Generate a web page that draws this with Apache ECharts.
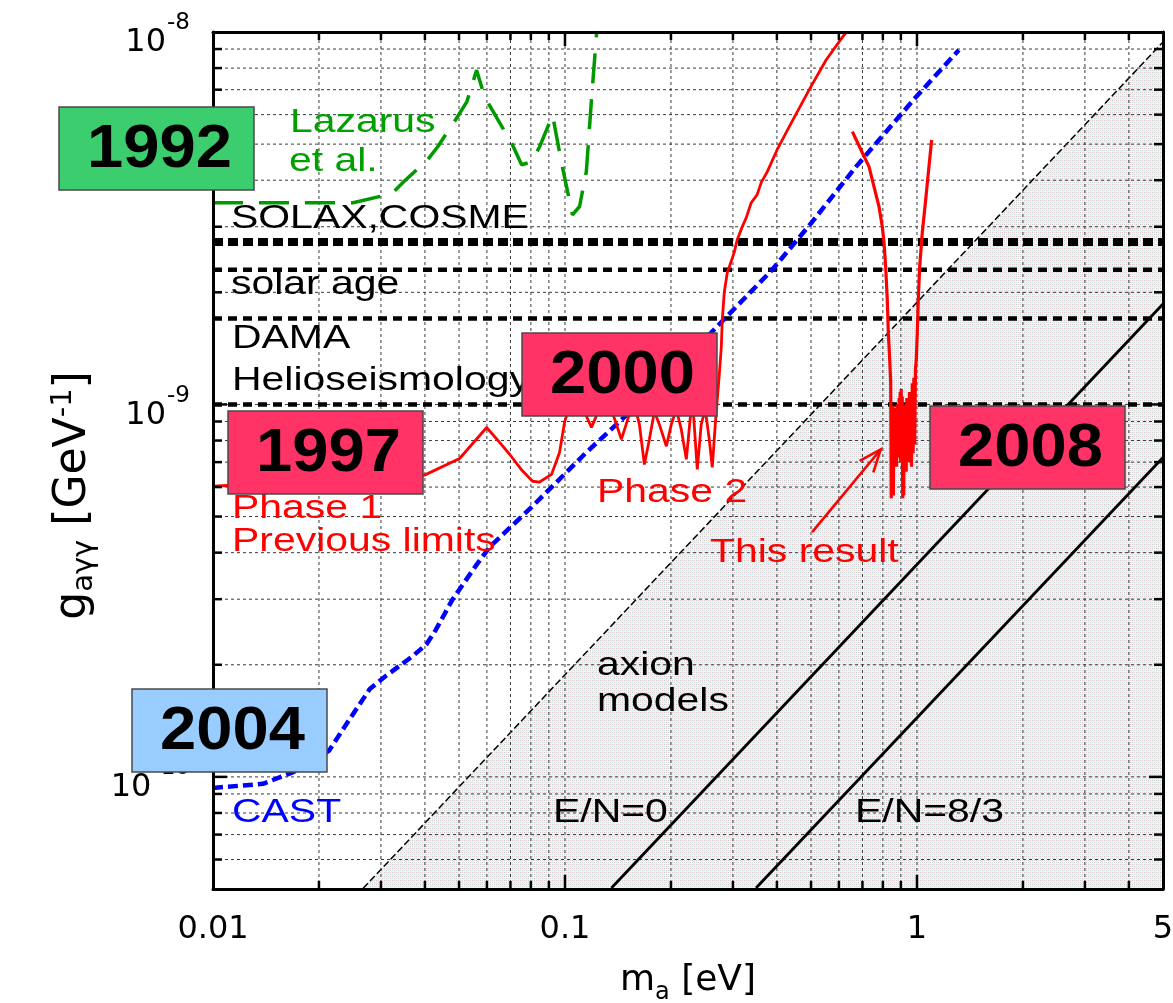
<!DOCTYPE html>
<html><head><meta charset="utf-8">
<script src="https://cdn.jsdelivr.net/npm/echarts@6/dist/echarts.min.js"></script>
<style>html,body{margin:0;padding:0;background:#fff}#c{width:1173px;height:1003px}</style>
</head><body><div id="c"></div><script>
// ---------- axis ranges & ticks ----------
const X_MIN = 0.01, X_MAX = 5, Y_MIN = 5e-11, Y_MAX = 1e-8;
const xTickValues = [0.01, 0.1, 1, 5];
const xTickLabels = ['0.01', '0.1', '1', '5'];
const yTickExponents = [-8, -9, -10];
const xMajorTicks = [0.1, 1];
const xMinorTicks = [0.02,0.03,0.04,0.05,0.06,0.07,0.08,0.09,0.2,0.3,0.4,0.5,0.6,0.7,0.8,0.9,2,3,4];
const yMajorTicks = [1e-10, 1e-9];
const yMinorTicks = [6e-11,7e-11,8e-11,9e-11,2e-10,3e-10,4e-10,5e-10,6e-10,7e-10,8e-10,9e-10,2e-9,3e-9,4e-9,5e-9,6e-9,7e-9,8e-9,9e-9];
const xGridLines = [0.02,0.03,0.04,0.05,0.06,0.07,0.08,0.09,0.1,0.2,0.3,0.4,0.5,0.6,0.7,0.8,0.9,1,2,3,4];
const yGridLines = [6e-11,7e-11,8e-11,9e-11,1e-10,2e-10,3e-10,4e-10,5e-10,6e-10,7e-10,8e-10,9e-10,1e-9,2e-9,3e-9,4e-9,5e-9,6e-9,7e-9,8e-9,9e-9];

// ---------- horizontal limits ----------
const limitNames  = ['SOLAX,COSME', 'solar age', 'DAMA', 'Helioseismology'];
const limitValues = [2.73e-9, 2.3e-9, 1.7e-9, 1.0e-9];

// ---------- axion model band & lines ----------
const bandX = [0.0267, 5];
const bandY = [5.02e-11, 9.4e-9];
const en0X = [0.1355, 5];
const en0Y = [5.03e-11, 1.86e-9];
const en83X = [0.349, 5];
const en83Y = [5.03e-11, 7.2e-10];

// ---------- Lazarus et al. (1992) ----------
const lazX = [0.01,0.025,0.0322,0.0346,0.0407,0.0435,0.0495,0.0526,0.0561,0.0591,0.0665,0.0705,0.0753,0.0804,0.0847,0.0922,0.0978,0.105,0.110,0.115,0.1189,0.123,0.1238];
const lazY = [3.48e-9,3.48e-9,3.68e-9,3.94e-9,4.54e-9,4.92e-9,5.92e-9,6.49e-9,7.9e-9,6.7e-9,5.53e-9,5.04e-9,4.40e-9,4.48e-9,4.92e-9,5.98e-9,4.45e-9,3.23e-9,3.40e-9,4.22e-9,6.57e-9,9.94e-9,1.0e-8];

// ---------- Tokyo helioscope phase 1 + phase 2 (1997, 2000) ----------
const tokyoX = [0.01,0.0399,0.0502,0.0599,0.0652,0.0696,0.0751,0.0809,0.0847,0.0916,0.0965,0.0997,0.1030,0.1078,0.1128,0.1189,0.1237,0.1286,0.1355,0.1446,0.1514,0.1575,0.1627,0.1681,0.1737,0.1795,0.1854,0.1941,0.2005,0.2072,0.2140,0.2212,0.2270,0.2315,0.2376,0.2438,0.2503,0.2570,0.2621,0.2673,0.2708,0.2744,0.2780,0.2798,0.2835,0.2891,0.2929,0.3026,0.3086,0.3188,0.3272,0.3381,0.3516,0.3609,0.3754,0.4006,0.4334,0.4938,0.5518,0.6208,0.633];
const tokyoY = [6.03e-10,6.46e-10,7.16e-10,8.67e-10,7.91e-10,7.35e-10,6.69e-10,6.22e-10,6.19e-10,6.49e-10,7.43e-10,8.95e-10,9.89e-10,1.044e-9,9.69e-10,8.68e-10,9.46e-10,1.031e-9,9.69e-10,8.06e-10,9.23e-10,1.0e-9,8.84e-10,6.90e-10,8.06e-10,9.58e-10,8.84e-10,7.72e-10,8.84e-10,9.69e-10,8.57e-10,7.12e-10,9.23e-10,9.58e-10,6.69e-10,8.84e-10,9.69e-10,8.06e-10,6.78e-10,8.84e-10,1.031e-9,1.203e-9,1.42e-9,1.69e-9,2.00e-9,2.26e-9,2.34e-9,2.56e-9,2.77e-9,3.00e-9,3.17e-9,3.48e-9,3.66e-9,3.94e-9,4.21e-9,4.83e-9,5.56e-9,6.99e-9,8.41e-9,9.82e-9,1.0e-8];

// ---------- This result (2008) ----------
const resultX = [0.6553,0.6995,0.7307,0.7551,0.78,0.7971,0.806,0.8149,0.8235,0.829,0.8366,0.8421,
  0.845,0.848,0.851,0.854,0.857,0.860,0.863,0.866,0.869,0.872,0.875,0.878,0.881,0.884,0.887,0.890,0.893,0.896,0.899,0.902,0.905,0.908,0.911,0.914,0.917,0.920,0.924,0.928,0.932,0.936,0.940,0.944,0.948,0.952,0.956,0.960,0.965,0.970,0.975,0.980,0.985,0.990,
  0.9954,1.0021,1.0086,1.0178,1.0352,1.0585,1.0815,1.1008];
const resultY = [5.40e-9,4.74e-9,4.35e-9,3.84e-9,3.40e-9,3.00e-9,2.72e-9,2.34e-9,1.91e-9,1.56e-9,1.32e-9,1.15e-9,
  5.6e-10,9.6e-10,6.2e-10,9.9e-10,5.7e-10,9.3e-10,7.0e-10,9.8e-10,7.6e-10,9.4e-10,6.8e-10,1.0e-9,7.8e-10,9.6e-10,7.2e-10,1.04e-9,7.5e-10,1.08e-9,7.0e-10,1.1e-9,7.6e-10,1.05e-9,5.6e-10,9.2e-10,5.7e-10,9.8e-10,7.4e-10,1.0e-9,6.6e-10,1.04e-9,7.2e-10,1.0e-9,7.0e-10,1.08e-9,7.6e-10,1.06e-9,6.8e-10,1.14e-9,7.4e-10,1.18e-9,7.8e-10,1.24e-9,
  1.32e-9,1.56e-9,1.91e-9,2.34e-9,2.89e-9,3.54e-9,4.35e-9,5.13e-9];

// ---------- CAST (2004) ----------
const castX = [0.01,0.01386,0.01697,0.02133,0.02446,0.02788,0.03096,0.03693,0.04047,0.04291,0.04797,0.05572,0.06105,0.08035,0.1151,0.1524,0.2604,0.3880,0.5036,0.6714,0.9935,1.3153];
const castY = [9.34e-11,9.58e-11,1.031e-10,1.174e-10,1.430e-10,1.721e-10,1.866e-10,2.110e-10,2.273e-10,2.478e-10,3.00e-10,3.68e-10,4.14e-10,5.30e-10,7.44e-10,9.52e-10,1.56e-9,2.30e-9,3.09e-9,4.35e-9,6.69e-9,8.95e-9];

// ---------- arrow "This result" ----------
const arrowFrom = [0.5036, 4.54e-10];
const arrowTo   = [0.7888, 7.57e-10];

// ---------- annotation texts ----------
const annTexts = ['Lazarus','et al.','SOLAX,COSME','solar age','DAMA','Helioseismology','Phase 1','Previous limits','Phase 2','This result','axion','models','E/N=0','E/N=8/3','CAST'];
const annColors = ['#00a000','#00a000','#000','#000','#000','#000','#ff0000','#ff0000','#ff0000','#ff0000','#000','#000','#000','#000','#0000ff'];
const annPos = [[290,123],[289,162],[231,219],[231,285],[232,339],[232,381],[232,509],[232,542],[597,493],[710,553],[597,666],[597,702],[553,813],[855,813],[232,813]];

const yearTexts = ['1992','1997','2000','2008','2004'];
const yearFills = ['#3ccd6e','#ff3366','#ff3366','#ff3366','#99ccff'];
const yearPos = [[59,107],[228,411],[522,333],[930,406],[132,689]];

// ---------- helpers ----------
const zip = (a, b) => a.map((v, i) => [v, b[i]]);
function makePattern() {
  const c = document.createElement('canvas'); c.width = 4; c.height = 4;
  const g = c.getContext('2d');
  g.fillStyle = '#f3f3f3'; g.fillRect(0, 0, 4, 4);
  g.fillStyle = '#cccccc'; g.fillRect(0, 0, 1, 1);
  g.fillStyle = '#ecd2da'; g.fillRect(2, 0, 1, 1);
  g.fillStyle = '#d2e6e6'; g.fillRect(0, 2, 1, 1);
  g.fillStyle = '#d4d4d4'; g.fillRect(2, 2, 1, 1);
  return c;
}
const FONT = '"DejaVu Sans", sans-serif';
const TFONT = '"Liberation Sans", Arial, sans-serif';

function tickSeries(vals, len, isX) {
  return {
    type: 'custom', z: 9, silent: true, clip: false,
    data: vals.map(v => isX ? [v, Y_MIN] : [X_MIN, v]),
    encode: { x: 0, y: 1 },
    renderItem: (params, api) => {
      let a, b, l1, l2;
      if (isX) {
        a = api.coord([api.value(0), Y_MIN]); b = api.coord([api.value(0), Y_MAX]);
        l1 = [a[0], a[1], a[0], a[1] - len]; l2 = [b[0], b[1], b[0], b[1] + len];
      } else {
        a = api.coord([X_MIN, api.value(1)]); b = api.coord([X_MAX, api.value(1)]);
        l1 = [a[0], a[1], a[0] + len, a[1]]; l2 = [b[0], b[1], b[0] - len, b[1]];
      }
      const st = { stroke: '#000', lineWidth: 2.5 };
      return { type: 'group', children: [
        { type: 'line', shape: { x1: l1[0], y1: l1[1], x2: l1[2], y2: l1[3] }, style: st },
        { type: 'line', shape: { x1: l2[0], y1: l2[1], x2: l2[2], y2: l2[3] }, style: st }
      ]};
    }
  };
}
function gridSeries(vals, isX) {
  return {
    type: 'custom', z: 2, silent: true,
    data: vals.map(v => isX ? [v, Y_MIN] : [X_MIN, v]),
    encode: { x: 0, y: 1 },
    renderItem: (params, api) => {
      let a, b;
      if (isX) { a = api.coord([api.value(0), Y_MIN]); b = api.coord([api.value(0), Y_MAX]); }
      else { a = api.coord([X_MIN, api.value(1)]); b = api.coord([X_MAX, api.value(1)]); }
      return { type: 'line', shape: { x1: a[0], y1: a[1], x2: b[0], y2: b[1] },
        style: { stroke: '#3a3a3a', lineWidth: 1, lineDash: [3, 3] } };
    }
  };
}
function lineSeries(name, data, color, width, dash, z) {
  return { type: 'line', name, data, symbol: 'none', showSymbol: false, z: z || 5, silent: true,
    lineStyle: { color, width, type: dash || 'solid' } };
}

const limitWidths = [8, 4.5, 4.5, 4.5];
const limitDash = [[10, 5], [9, 6], [9, 6], [9, 6]];

const series = [
  { type: 'line', name: 'axion models', data: zip(bandX, bandY), symbol: 'none', z: 1, silent: true,
    lineStyle: { color: '#000', width: 1.5, type: [7, 3] },
    areaStyle: { origin: 'start', color: { image: makePattern(), repeat: 'repeat' }, opacity: 1 } },
  gridSeries(xGridLines, true),
  gridSeries(yGridLines, false),
  lineSeries('E/N=0', zip(en0X, en0Y), '#000', 2.8, 'solid', 3),
  lineSeries('E/N=8/3', zip(en83X, en83Y), '#000', 2.8, 'solid', 3),
  ...limitValues.map((v, i) => lineSeries(limitNames[i], [[X_MIN, v], [X_MAX, v]], '#000', limitWidths[i], limitDash[i], 4)),
  lineSeries('Lazarus et al.', zip(lazX, lazY), '#009900', 3.5, [30, 16], 5),
  lineSeries('CAST', zip(castX, castY), '#0000ff', 4.5, [10, 5], 5),
  lineSeries('Tokyo helioscope', zip(tokyoX, tokyoY), '#ff0000', 2.8, 'solid', 6),
  lineSeries('This result', zip(resultX, resultY), '#ff0000', 3.2, 'solid', 6),
  { type: 'custom', z: 6, silent: true, data: [[arrowFrom[0], arrowFrom[1], arrowTo[0], arrowTo[1]]],
    encode: { x: [0, 2], y: [1, 3] },
    renderItem: (params, api) => {
      const p = api.coord([api.value(0), api.value(1)]);
      const q = api.coord([api.value(2), api.value(3)]);
      const ang = Math.atan2(p[1] - q[1], p[0] - q[0]);
      const L = 24, da = 0.38;
      const h1 = [q[0] + L * Math.cos(ang + da), q[1] + L * Math.sin(ang + da)];
      const h2 = [q[0] + L * Math.cos(ang - da), q[1] + L * Math.sin(ang - da)];
      const st = { stroke: '#ff0000', lineWidth: 2.6 };
      return { type: 'group', children: [
        { type: 'line', shape: { x1: p[0], y1: p[1], x2: q[0], y2: q[1] }, style: st },
        { type: 'polyline', shape: { points: [h1, q, h2] }, style: Object.assign({ fill: null }, st) }
      ]};
    } },
  tickSeries(xMinorTicks, 8, true),
  tickSeries(xMajorTicks, 14, true),
  tickSeries(yMinorTicks, 9, false),
  tickSeries(yMajorTicks, 14, false)
];

const graphics = [];
annTexts.forEach((t, i) => {
  graphics.push({ type: 'text', x: annPos[i][0], y: annPos[i][1], scaleX: 1.24, z: 50, silent: true,
    style: { text: t, fill: annColors[i], fontSize: 33, fontFamily: TFONT,
      align: 'left', verticalAlign: 'middle', textAlign: 'left', textVerticalAlign: 'middle' } });
});
yearTexts.forEach((t, i) => {
  graphics.push({ type: 'rect', x: yearPos[i][0], y: yearPos[i][1], z: 100, silent: true,
    shape: { x: 0, y: 0, width: 195, height: 83 },
    style: { fill: yearFills[i], stroke: '#4a4a4a', lineWidth: 1.5 } });
  graphics.push({ type: 'text', x: yearPos[i][0] + 100.5, y: yearPos[i][1] + 42.5, scaleX: 1.05, z: 101, silent: true,
    style: { text: t, fill: '#000', fontSize: 62, fontWeight: 'bold', fontFamily: TFONT,
      align: 'center', verticalAlign: 'middle', textAlign: 'center', textVerticalAlign: 'middle' } });
});

function xFmt(v) {
  for (let i = 0; i < xTickValues.length; i++) {
    if (Math.abs(v - xTickValues[i]) / xTickValues[i] < 1e-6) return xTickLabels[i];
  }
  return '';
}
function yFmt(v) {
  const l = Math.log10(v), e = Math.round(l);
  if (Math.abs(l - e) > 1e-6 || yTickExponents.indexOf(e) < 0) return '';
  return '{b|10}{s|' + e + '}';
}

const option = {
  animation: false,
  backgroundColor: '#fff',
  grid: { left: 213, top: 32, width: 950, height: 857, containLabel: false, outerBoundsMode: 'none' },
  xAxis: [
    { type: 'log', logBase: 10, min: X_MIN, max: X_MAX, position: 'bottom', z: 10,
      axisLine: { show: true, onZero: false, lineStyle: { color: '#000', width: 3 } },
      axisTick: { show: false }, splitLine: { show: false }, minorTick: { show: false },
      axisLabel: { show: true, formatter: xFmt, margin: 25, color: '#000', fontSize: 32, fontFamily: FONT,
        showMinLabel: true, showMaxLabel: true, hideOverlap: false },
      name: '{m|m}{sub|a}{m| [eV]}', nameLocation: 'middle', nameGap: 74,
      nameTextStyle: { color: '#000', fontFamily: FONT, fontSize: 36,
        rich: { m: { fontSize: 36, fontFamily: FONT, lineHeight: 42, verticalAlign: 'top', color: '#000' },
                sub: { fontSize: 24, fontFamily: FONT, lineHeight: 24, verticalAlign: 'bottom', color: '#000' } } } },
    { type: 'log', logBase: 10, min: X_MIN, max: X_MAX, position: 'top', z: 10,
      axisLine: { show: true, onZero: false, lineStyle: { color: '#000', width: 3 } },
      axisTick: { show: false }, splitLine: { show: false }, axisLabel: { show: false } }
  ],
  yAxis: [
    { type: 'log', logBase: 10, min: Y_MIN, max: Y_MAX, position: 'left', z: 10,
      axisLine: { show: true, onZero: false, lineStyle: { color: '#000', width: 3 } },
      axisTick: { show: false }, splitLine: { show: false }, minorTick: { show: false },
      axisLabel: { show: true, formatter: yFmt, margin: 23, color: '#000', fontFamily: FONT, fontSize: 32,
        padding: [6, 0, 0, 0],
        showMinLabel: true, showMaxLabel: true, hideOverlap: false,
        rich: { b: { fontSize: 32, fontFamily: FONT, lineHeight: 48, verticalAlign: 'bottom', color: '#000' },
                s: { fontSize: 23, fontFamily: FONT, lineHeight: 23, verticalAlign: 'top', padding: [1, 0, 0, 1], color: '#000' } } },
      name: '{m|g}{sub|aγγ}{m| [GeV}{sup|-1}{m|]}', nameLocation: 'middle', nameGap: 114, nameRotate: 90,
      nameTextStyle: { color: '#000', fontFamily: FONT, fontSize: 44, padding: [0, 70, 0, 0],
        rich: { m: { fontSize: 44, fontFamily: FONT, lineHeight: 50, verticalAlign: 'middle', color: '#000' },
                sub: { fontSize: 29, fontFamily: FONT, lineHeight: 29, verticalAlign: 'bottom', color: '#000' },
                sup: { fontSize: 29, fontFamily: FONT, lineHeight: 29, verticalAlign: 'top', color: '#000' } } } },
    { type: 'log', logBase: 10, min: Y_MIN, max: Y_MAX, position: 'right', z: 10,
      axisLine: { show: true, onZero: false, lineStyle: { color: '#000', width: 3 } },
      axisTick: { show: false }, splitLine: { show: false }, axisLabel: { show: false } }
  ],
  series: series,
  graphic: graphics
};

const chart = echarts.init(document.getElementById('c'), null, { renderer: 'canvas' });
chart.setOption(option);
</script></body></html>
